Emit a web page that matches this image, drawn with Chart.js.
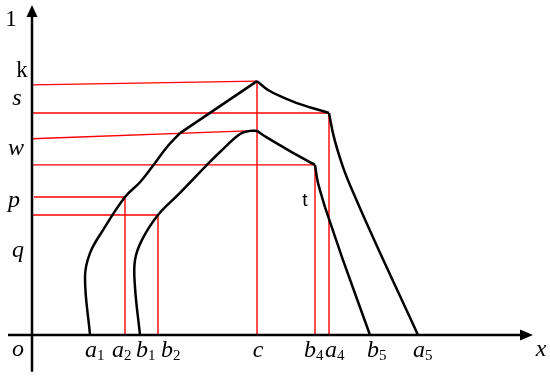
<!DOCTYPE html>
<html>
<head>
  <meta charset="UTF-8">
  <title>Membership functions</title>
  <script src="https://cdn.jsdelivr.net/npm/chart.js"></script>
  <style>
    body { margin: 0; padding: 0; background: #fff; }
    canvas { display: block; }
  </style>
</head>
<body>
  <canvas id="chart" width="550" height="377"></canvas>

  <script>
    // x: distance from origin, y: membership grade (1 = top label)
    const outerRise = [
      {x: 58, y: 0}, {x: 53, y: 0.184}, {x: 58, y: 0.260}, {x: 71, y: 0.333},
      {x: 93, y: 0.438}, {x: 108, y: 0.485}, {x: 120, y: 0.533}, {x: 135, y: 0.597},
      {x: 148, y: 0.641}
    ];
    const outerSlope = [{x: 148, y: 0.641}, {x: 225, y: 0.806}];
    const outerShoulder = [
      {x: 225, y: 0.806}, {x: 236, y: 0.778}, {x: 250, y: 0.756}, {x: 268, y: 0.733}, {x: 297, y: 0.705}
    ];
    const outerFall = [
      {x: 297, y: 0.705}, {x: 301, y: 0.640}, {x: 311, y: 0.533}, {x: 324, y: 0.432}, {x: 386, y: 0}
    ];

    const innerRise = [
      {x: 108, y: 0}, {x: 103, y: 0.152}, {x: 103, y: 0.238}, {x: 110, y: 0.302},
      {x: 126, y: 0.381}, {x: 148, y: 0.451}, {x: 175, y: 0.540}, {x: 188, y: 0.581},
      {x: 208, y: 0.638}, {x: 218, y: 0.648}, {x: 225, y: 0.648}
    ];
    const innerShoulder = [
      {x: 225, y: 0.648}, {x: 236, y: 0.625}, {x: 258, y: 0.584}, {x: 283, y: 0.540}
    ];
    const innerFallTop = [{x: 283, y: 0.540}, {x: 286, y: 0.483}, {x: 293, y: 0.406}];
    const innerFallBottom = [{x: 293, y: 0.406}, {x: 311, y: 0.238}, {x: 338, y: 0}];

    // red guide lines
    const guides = [
      [{x: 0, y: 0.794}, {x: 225, y: 0.806}],
      [{x: 0, y: 0.705}, {x: 297, y: 0.705}],
      [{x: 0, y: 0.623}, {x: 215, y: 0.648}],
      [{x: 0, y: 0.540}, {x: 283, y: 0.540}],
      [{x: 2, y: 0.438}, {x: 93, y: 0.438}],
      [{x: 0, y: 0.381}, {x: 126, y: 0.381}],
      [{x: 93, y: 0.438}, {x: 93, y: 0}],
      [{x: 126, y: 0.381}, {x: 126, y: 0}],
      [{x: 225, y: 0.806}, {x: 225, y: 0}],
      [{x: 283, y: 0.540}, {x: 283, y: 0}],
      [{x: 297, y: 0.705}, {x: 297, y: 0}]
    ];

    const xTickValues = [58, 93, 108, 126, 225, 283, 297, 338, 386];
    const xTickLetters = ['a', 'a', 'b', 'b', 'c', 'b', 'a', 'b', 'a'];
    const xTickSubs = ['1', '2', '1', '2', '', '4', '4', '5', '5'];

    const yTickValues = [1, 0.838, 0.749, 0.590, 0.425, 0.267];
    const yTickLabels = ['1', 'k', 's', 'w', 'p', 'q'];

    const xAxisEnds = [-24, 501];
    const yAxisEnds = [-0.117, 1.048];

    const curve = (data, tension, mode) => ({
      data: data, showLine: true, borderColor: '#000', borderWidth: 2.5,
      pointRadius: 0, tension: tension, fill: false,
      cubicInterpolationMode: mode || 'default'
    });
    const redLine = (data) => ({
      data: data, showLine: true, borderColor: '#ff0000', borderWidth: 1.4,
      pointRadius: 0, tension: 0, fill: false
    });

    const datasets = [
      curve(outerRise, 0.4), curve(outerSlope, 0), curve(outerShoulder, 0.4), curve(outerFall, 0.4, 'monotone'),
      curve(innerRise, 0.4), curve(innerShoulder, 0.3), curve(innerFallTop, 0.3), curve(innerFallBottom, 0.2),
      curve([{x: xAxisEnds[0], y: 0}, {x: xAxisEnds[1] - 8, y: 0}], 0),
      curve([{x: 0, y: yAxisEnds[0]}, {x: 0, y: yAxisEnds[1] - 0.02}], 0)
    ];
    guides.forEach(g => datasets.push(redLine(g)));

    // per-label nudges, px
    const xNudge = [1, -7, 2, 9, 1, -5, 2, 3, 1];
    const yNudge = [-21, -10, -15, -16, -18, -14];

    const labelPlugin = {
      id: 'labels',
      afterDatasetsDraw(chart) {
        const ctx = chart.ctx;
        const sx = chart.scales.x, sy = chart.scales.y;
        const x0 = sx.getPixelForValue(0), y0 = sy.getPixelForValue(0);
        ctx.save();
        ctx.fillStyle = '#000';

        // arrow heads
        const tipY = sy.getPixelForValue(yAxisEnds[1]);
        ctx.beginPath();
        ctx.moveTo(x0, tipY);
        ctx.lineTo(x0 - 5.5, tipY + 12);
        ctx.lineTo(x0 + 5.5, tipY + 12);
        ctx.closePath();
        ctx.fill();
        const tipX = sx.getPixelForValue(xAxisEnds[1]);
        ctx.beginPath();
        ctx.moveTo(tipX, y0);
        ctx.lineTo(tipX - 13, y0 - 5.5);
        ctx.lineTo(tipX - 13, y0 + 5.5);
        ctx.closePath();
        ctx.fill();

        ctx.textBaseline = 'alphabetic';
        // x tick labels
        xTickValues.forEach((v, i) => {
          const px = sx.getPixelForValue(v) + xNudge[i];
          ctx.font = 'italic 24px "Liberation Serif"';
          const w = ctx.measureText(xTickLetters[i]).width;
          ctx.textAlign = 'center';
          ctx.fillText(xTickLetters[i], px, y0 + 22);
          if (xTickSubs[i]) {
            ctx.font = '15px "Liberation Serif"';
            ctx.textAlign = 'left';
            ctx.fillText(xTickSubs[i], px + w / 2, y0 + 25);
          }
        });

        // y tick labels
        yTickValues.forEach((v, i) => {
          const py = sy.getPixelForValue(v);
          const upright = yTickLabels[i] === '1' || yTickLabels[i] === 'k';
          ctx.font = upright ? '23px "Liberation Serif"' : 'italic 24px "Liberation Serif"';
          ctx.textAlign = 'center';
          ctx.textBaseline = 'middle';
          ctx.fillText(yTickLabels[i], x0 + yNudge[i], py);
        });

        ctx.font = 'italic 24px "Liberation Serif"';
        ctx.textBaseline = 'alphabetic';
        ctx.textAlign = 'center';
        ctx.fillText('o', x0 - 14, y0 + 21);
        ctx.fillText('x', sx.getPixelForValue(509), y0 + 21);

        ctx.font = '19px "Liberation Sans"';
        ctx.textBaseline = 'middle';
        ctx.fillText('t', sx.getPixelForValue(273), sy.getPixelForValue(0.425));
        ctx.restore();
      }
    };

    new Chart(document.getElementById('chart'), {
      type: 'scatter',
      data: { datasets: datasets },
      options: {
        responsive: false,
        animation: false,
        layout: { padding: 0 },
        plugins: { legend: { display: false }, tooltip: { enabled: false } },
        scales: {
          x: { type: 'linear', min: -32, max: 518, display: false },
          y: { type: 'linear', min: -0.1333, max: 1.0635, display: false }
        }
      },
      plugins: [labelPlugin]
    });
  </script>
</body>
</html>
